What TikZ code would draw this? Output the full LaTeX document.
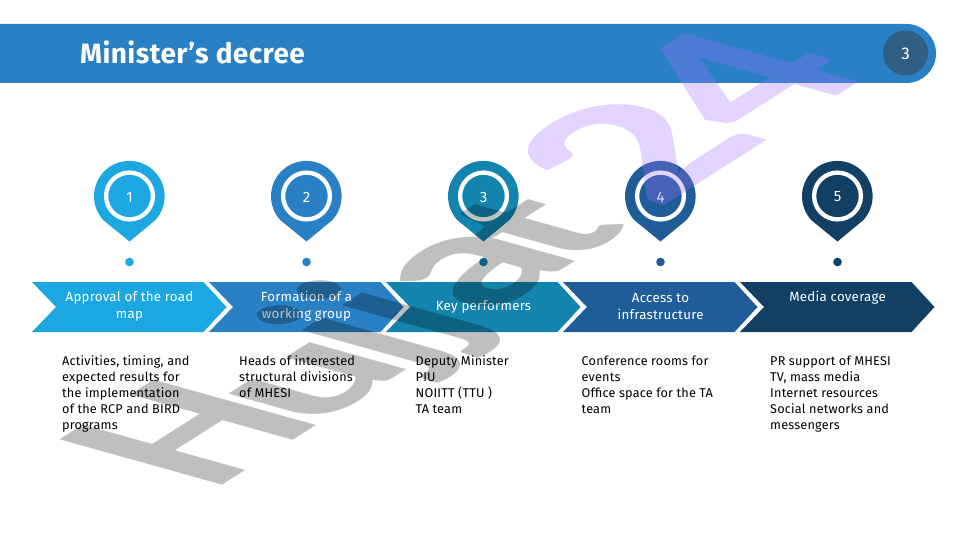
\documentclass[tikz,border=0pt]{standalone}
\usepackage{graphicx}
\usepackage{fontspec}
\setmainfont{Fira Sans}
\newfontfamily\wmfont{Carlito}
\newfontfamily\spacedfont[LetterSpace=1.4]{Fira Sans}
\newfontfamily\stepfont[LetterSpace=2]{Fira Sans}
\newfontfamily\titlefont[LetterSpace=1.5]{Fira Sans}
\definecolor{cA}{HTML}{1CA7E1}
\definecolor{cB}{HTML}{2980C4}
\definecolor{cC}{HTML}{1384AD}
\definecolor{cD}{HTML}{1F5D99}
\definecolor{cE}{HTML}{123F64}
\definecolor{cPage}{HTML}{315F84}
\definecolor{wmviolet}{HTML}{A070FF}
\tikzset{
  pinlabel/.style={text=white,font=\fontsize{15}{15}\selectfont,inner sep=0pt},
  steplabel/.style={text=white,font=\stepfont\fontsize{13.3}{17}\selectfont,align=center,inner sep=0pt},
  desc/.style={text=black,font=\spacedfont\fontsize{12.7}{16}\selectfont,align=left,anchor=north west,inner sep=0pt},
  wm/.style={anchor=base west,inner sep=0pt,font=\wmfont\bfseries\fontsize{100}{100}\selectfont,transform shape},
}
\newcommand{\pinmark}[3]{%
  \fill[#2] (#1,241.5) -- (#1-26,220.3) arc[start angle=137,end angle=403,radius=35.3] -- cycle;
  \draw[white,line width=4.3pt] (#1,196) circle[radius=23.4];
  \fill[#2] (#1,262) circle[radius=4.3];
  \node[pinlabel] (pin#3) at (#1,197) {#3};
}
\newcommand{\chevron}[2]{%
  \fill[#2] (#1,282) -- (#1+171.5,282) -- (#1+194.5,307) -- (#1+171.5,332) -- (#1,332) -- (#1+24,307) -- cycle;
}
% one watermark letter: advance, x scale, y scale, letter
\newcommand{\wmletter}[4]{\makebox[#1pt][l]{\scalebox{#2}[#3]{#4}}}
\begin{document}
\begin{tikzpicture}[x=1pt,y=-1pt]
\useasboundingbox (0,0) rectangle (960,540);
\fill[white] (0,0) rectangle (960,540);
% header
\fill[cB] (0,24) -- (906.5,24) arc[start angle=-90,end angle=90,radius=29.5] -- (0,83) -- cycle;
\fill[cPage] (905.5,53) circle[radius=22.5];
\node[text=white,font=\fontsize{17}{17}\selectfont,inner sep=0pt] (pagenum) at (905.5,53.5) {3};
\node[text=white,font=\titlefont\bfseries\fontsize{28}{28}\selectfont,anchor=base west,inner sep=0pt] (title) at (80,64) {Minister’s decree};
% pins
\pinmark{129.5}{cA}{1}
\pinmark{306.5}{cB}{2}
\pinmark{483.5}{cC}{3}
\pinmark{660.5}{cD}{4}
\pinmark{837.5}{cE}{5}
% chevrons
\chevron{32}{cA}
\chevron{209}{cB}
\chevron{386}{cC}
\chevron{563}{cD}
\chevron{740}{cE}
\node[steplabel,anchor=center] (s1) at (129.5,306.5) {Approval of the road\\map};
\node[steplabel,anchor=center] (s2) at (306.5,306.5) {Formation of a\\working group};
\node[steplabel,anchor=center] (s3) at (483.5,307) {Key performers};
\node[steplabel,anchor=center] (s4) at (660.5,306.5) {Access to\\infrastructure};
\node[steplabel,anchor=center] (s5) at (837.5,298) {Media coverage};
% descriptions
\node[desc] (d1) at (62,355.5) {Activities, timing, and\\expected results for\\the implementation\\of the RCP and BIRD\\programs};
\node[desc] (d2) at (239,355.5) {Heads of interested\\structural divisions\\of MHESI};
\node[desc] (d3) at (415.5,355.5) {Deputy Minister\\PIU\\NOIITT (TTU )\\TA team};
\node[desc] (d4) at (581.5,355.5) {Conference rooms for\\events\\Office space for the TA\\team};
\node[desc] (d5) at (770,355.5) {PR support of MHESI\\TV, mass media\\Internet resources\\Social networks and\\messengers};
% watermark
\begin{scope}[transparency group,opacity=0.25]
\node[wm,text=black,cm={1.806,1.147,-2.557,0.714,(212.6,492.2)}] (wm1) at (0,0) {%
  \wmletter{56.5}{1}{0.98}{H}\wmletter{50}{1.06}{0.78}{u}\wmletter{22}{0.9}{0.92}{j}\wmletter{24.3}{0.9}{0.92}{j}\wmletter{45.8}{1.09}{0.93}{a}\wmletter{46.8}{1}{0.82}{t}};
\end{scope}
\begin{scope}[transparency group,opacity=0.3]
\node[wm,text=wmviolet,cm={1.806,1.147,-2.557,0.714,(655.7,210.8)}] (wm2) at (0,0) {%
  \wmletter{62.2}{1.3}{1.0}{2}\wmletter{60}{1.2}{1.05}{4}};
\end{scope}
\end{tikzpicture}
\end{document}
